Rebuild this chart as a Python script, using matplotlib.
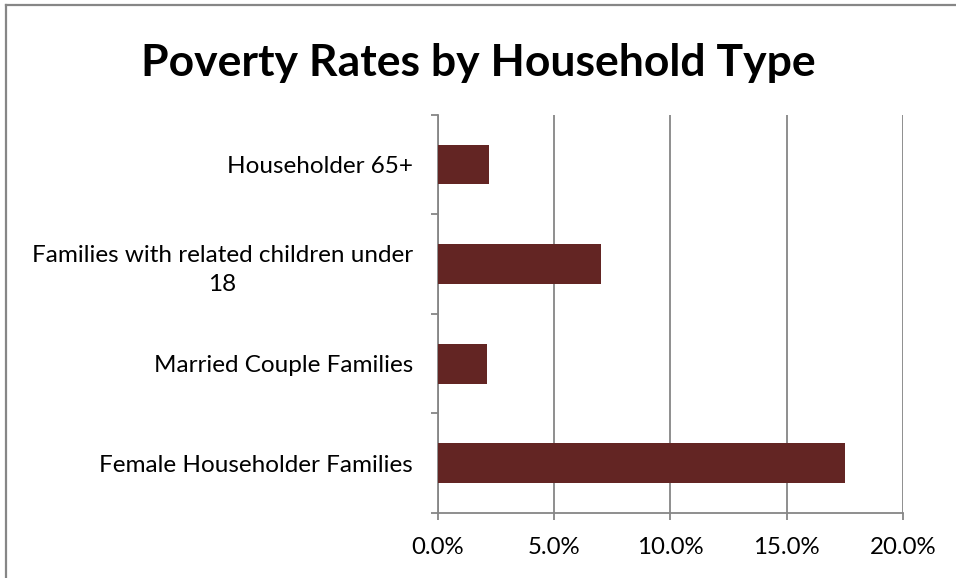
import numpy as np
import matplotlib
matplotlib.use("Agg")
import matplotlib.pyplot as plt
from matplotlib.lines import Line2D
from matplotlib.ticker import FuncFormatter

# data, bottom to top as drawn
categories = ["Female Householder Families",
              "Married Couple Families",
              "Families with related children under\n18",
              "Householder 65+"]
rates = [17.5, 2.1, 7.0, 2.2]
x_ticks = [0, 5, 10, 15, 20]

plt.rcParams['font.family'] = ['Lato', 'DejaVu Sans']

bar_color = '#632523'
axis_gray = '#868686'

fig = plt.figure(figsize=(9.56, 5.78), dpi=100)
ax = fig.add_axes([0.458, 0.1125, 0.4865, 0.689])

y = np.arange(len(categories))
ax.barh(y, rates, height=0.4, color=bar_color, zorder=3)

ax.set_xlim(0, 20)
ax.set_ylim(-0.5, len(categories) - 0.5)
ax.set_xticks(x_ticks)
ax.xaxis.set_major_formatter(FuncFormatter(lambda v, p: f"{v:.1f}%"))
ax.grid(axis='x', color=axis_gray, linewidth=1.3, zorder=0)

# category boundaries get tick marks, labels sit at centers
ax.set_yticks(np.arange(-0.5, len(categories)), labels=[])
ax.set_yticks(y, minor=True)
ax.set_yticklabels(categories, minor=True, multialignment='center', linespacing=1.45)
ax.tick_params(axis='y', which='minor', length=0, pad=18, labelsize=17.5)
ax.tick_params(axis='y', which='major', length=5, color=axis_gray, width=1.3)
ax.tick_params(axis='x', length=5, color=axis_gray, width=1.3, labelsize=17.3, pad=12)

for s in ['top', 'right']:
    ax.spines[s].set_visible(False)
for s in ['left', 'bottom']:
    ax.spines[s].set_color(axis_gray)
    ax.spines[s].set_linewidth(1.3)

fig.text(0.5, 0.8685, "Poverty Rates by Household Type", ha='center', va='baseline',
         fontsize=32, fontweight='bold')

# chart border (cropped: only top and left edges show)
fig.add_artist(Line2D([0.0058, 1.0], [0.9922, 0.9922], transform=fig.transFigure,
                      color=axis_gray, linewidth=1.6))
fig.add_artist(Line2D([0.0058, 0.0058], [0.0, 0.9922], transform=fig.transFigure,
                      color=axis_gray, linewidth=1.6))

fig.savefig("out.png", dpi=100)
